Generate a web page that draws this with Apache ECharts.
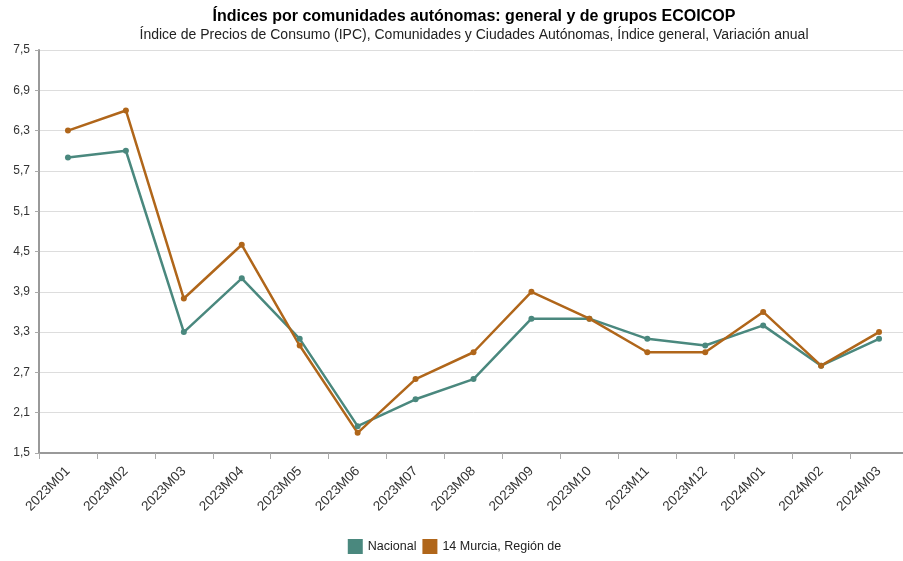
<!DOCTYPE html>
<html><head><meta charset="utf-8">
<script src="https://cdn.jsdelivr.net/npm/echarts@6/dist/echarts.min.js"></script>
<style>html,body{margin:0;padding:0;background:#fff;overflow:hidden}#c{width:909px;height:561px}</style>
</head><body><div id="c"></div>
<script>
const categories = ['2023M01','2023M02','2023M03','2023M04','2023M05','2023M06','2023M07','2023M08','2023M09','2023M10','2023M11','2023M12','2024M01','2024M02','2024M03'];
const nacional = [5.9, 6.0, 3.3, 4.1, 3.2, 1.9, 2.3, 2.6, 3.5, 3.5, 3.2, 3.1, 3.4, 2.8, 3.2];
const murcia = [6.3, 6.6, 3.8, 4.6, 3.1, 1.8, 2.6, 3.0, 3.9, 3.5, 3.0, 3.0, 3.6, 2.8, 3.3];
const chart = echarts.init(document.getElementById('c'));
const font = 'Liberation Sans, Arial, sans-serif';
chart.setOption({
  animation: false,
  textStyle: {fontFamily: font},
  title: {
    text: 'Índices por comunidades autónomas: general y de grupos ECOICOP',
    subtext: 'Índice de Precios de Consumo (IPC), Comunidades y Ciudades Autónomas, Índice general, Variación anual',
    left: 469, textAlign: 'center', top: 4, itemGap: 3,
    textStyle: {fontSize: 16, fontWeight: 'bold', color: '#000', fontFamily: font},
    subtextStyle: {fontSize: 14, color: '#222', fontFamily: font}
  },
  legend: {
    bottom: 2, left: 'center', itemWidth: 15, itemHeight: 15, itemGap: 6,
    icon: 'rect',
    textStyle: {fontSize: 12.5, color: '#222', fontFamily: font},
    data: ['Nacional', '14 Murcia, Región de']
  },
  grid: {left: 39, right: 1, top: 50, bottom: 108, containLabel: false},
  xAxis: {
    type: 'category', data: categories, boundaryGap: true,
    axisLine: {lineStyle: {color: '#999', width: 2}},
    axisTick: {show: true, alignWithLabel: false, length: 6, lineStyle: {color: '#aaa'}},
    axisLabel: {rotate: 45, fontSize: 13.5, color: '#333', margin: 16, fontFamily: font}
  },
  yAxis: {
    type: 'value', min: 1.5, max: 7.5, interval: 0.6,
    axisLine: {show: true, lineStyle: {color: '#999', width: 2}},
    axisTick: {show: true, length: 4, lineStyle: {color: '#aaa'}},
    axisLabel: {fontSize: 12, color: '#333', margin: 9, fontFamily: font,
      formatter: v => v.toFixed(1).replace('.', ',')},
    splitLine: {lineStyle: {color: '#ddd'}}
  },
  series: [
    {name: 'Nacional', type: 'line', data: nacional, symbol: 'circle', symbolSize: 6,
     itemStyle: {color: '#4a887e'}, lineStyle: {width: 2.5, color: '#4a887e'}},
    {name: '14 Murcia, Región de', type: 'line', data: murcia, symbol: 'circle', symbolSize: 6,
     itemStyle: {color: '#b0661a'}, lineStyle: {width: 2.5, color: '#b0661a'}}
  ]
});
</script></body></html>
